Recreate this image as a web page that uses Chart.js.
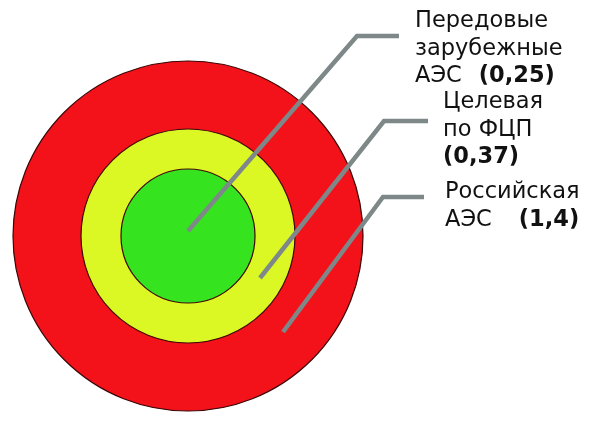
<!DOCTYPE html>
<html>
<head>
<meta charset="utf-8">
<script src="https://cdn.jsdelivr.net/npm/chart.js@4/dist/chart.umd.min.js"></script>
<style>
  html, body { margin: 0; padding: 0; background: #fff; }
  #wrap { width: 600px; height: 422px; position: relative; }
</style>
</head>
<body>
<div id="wrap"><canvas id="rings"></canvas></div>
<script>
// Concentric circles: outer ring is the Russian NPP, inner disc the foreign ones
const categories = ['Российская АЭС', 'Целевая по ФЦП', 'Передовые зарубежные АЭС'];
const values = [1.4, 0.37, 0.25];
const valueLabels = ['1,4', '0,37', '0,25'];

const ringColors = ['#f4121a', '#dbf824', '#35e41f'];
const ringWeights = [68, 40, 67];

// label blocks, one per category (text lines, last line carries the bold value)
const labelBlocks = [
    { lines: ['Российская', 'АЭС'], x: 445, y: 198, boldGap: 27 },
    { lines: ['Целевая', 'по ФЦП', ''], x: 443, y: 108, boldGap: 0 },
    { lines: ['Передовые', 'зарубежные', 'АЭС'], x: 415, y: 27, boldGap: 17 }
];
// leader lines: start offset from centre, elbow and end of the horizontal stub
const leaders = [
    { from: [95, 96], elbow: [383, 197], to: [424, 197] },
    { from: [72, 42], elbow: [384, 121], to: [428, 121] },
    { from: [0, -5], elbow: [357, 36], to: [399, 36] }
];

const outlinePlugin = {
    id: 'outlines',
    afterDatasetsDraw(chart) {
        const ctx = chart.ctx;
        ctx.save();
        ctx.strokeStyle = '#3b0505';
        ctx.lineWidth = 1.2;
        chart.data.datasets.forEach((ds, i) => {
            const arc = chart.getDatasetMeta(i).data[0];
            if (!arc) return;
            ctx.beginPath();
            ctx.arc(arc.x, arc.y, arc.outerRadius, 0, Math.PI * 2);
            ctx.stroke();
        });
        ctx.restore();
    },
    afterDraw(chart) {
        const ctx = chart.ctx;
        const arc = chart.getDatasetMeta(0).data[0];
        const cx = arc.x, cy = arc.y;
        ctx.save();
        // leader lines
        ctx.strokeStyle = '#7e8888';
        ctx.lineWidth = 4.5;
        ctx.lineJoin = 'miter';
        ctx.lineCap = 'butt';
        leaders.forEach(l => {
            ctx.beginPath();
            ctx.moveTo(cx + l.from[0], cy + l.from[1]);
            ctx.lineTo(l.elbow[0], l.elbow[1]);
            ctx.lineTo(l.to[0], l.to[1]);
            ctx.stroke();
        });
        // labels
        ctx.fillStyle = '#111';
        ctx.textBaseline = 'alphabetic';
        ctx.textAlign = 'left';
        const lh = 27.5;
        labelBlocks.forEach((b, i) => {
            b.lines.forEach((t, j) => {
                const y = b.y + j * lh;
                ctx.font = '22.5px "DejaVu Sans"';
                ctx.fillText(t, b.x, y);
                if (j === b.lines.length - 1) {
                    const w = t ? ctx.measureText(t).width + b.boldGap : 0;
                    ctx.font = 'bold 22.5px "DejaVu Sans"';
                    ctx.fillText('(' + valueLabels[i] + ')', b.x + w, y);
                }
            });
        });
        ctx.restore();
    }
};

new Chart(document.getElementById('rings'), {
    type: 'pie',
    data: {
        labels: categories,
        datasets: values.map((v, i) => ({
            label: categories[i],
            data: [v],
            backgroundColor: ringColors[i],
            borderWidth: 0,
            weight: ringWeights[i]
        }))
    },
    options: {
        responsive: true,
        maintainAspectRatio: false,
        animation: false,
        layout: {
            padding: { left: 13, right: 237, top: 61, bottom: 11 }
        },
        plugins: {
            legend: { display: false },
            tooltip: { enabled: false }
        }
    },
    plugins: [outlinePlugin]
});
</script>
</body>
</html>
